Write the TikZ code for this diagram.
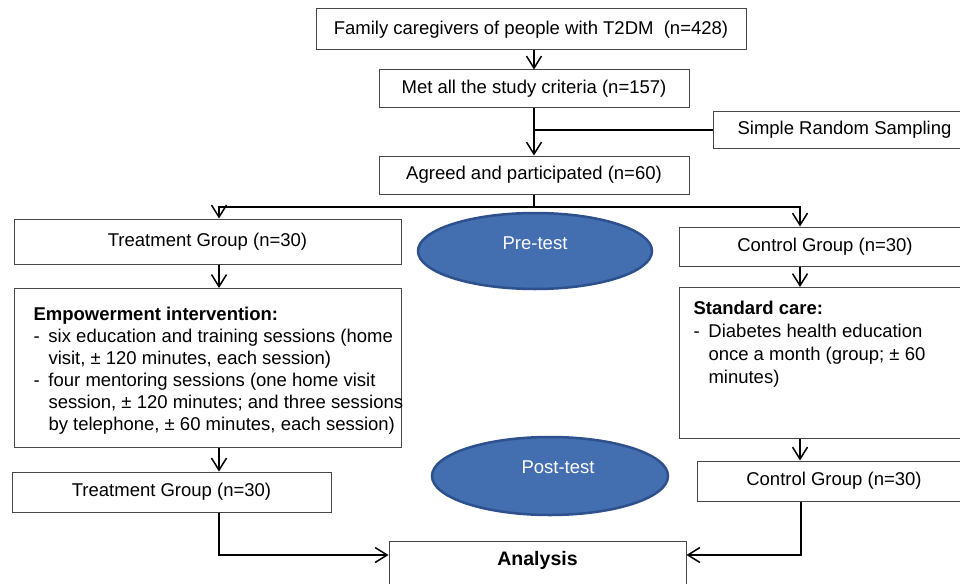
\documentclass[tikz,border=0pt]{standalone}
\usepackage{fontspec}
\setmainfont{Liberation Sans}
\usetikzlibrary{arrows.meta,shapes.geometric}
\definecolor{ellfill}{RGB}{67,110,175}
\definecolor{elldraw}{RGB}{46,80,140}
\definecolor{boxline}{RGB}{70,70,70}
\begin{document}
\begin{tikzpicture}[x=1pt,y=-1pt,
  font=\fontsize{18.5}{22}\selectfont,
  box/.style={draw=boxline, line width=1pt, rectangle, inner sep=0pt, fill=white},
  conn/.style={line width=1.5pt, black},
  arr/.style={conn, -{Straight Barb[length=12pt,width=15pt]}},
  oval/.style={ellipse, draw=elldraw, line width=2.5pt, fill=ellfill, text=white, inner sep=0pt}]
\useasboundingbox (0,0) rectangle (960,583);
\clip (0,0) rectangle (960,583);
\fill[white] (0,0) rectangle (960,583);

\node[box, minimum width=430pt, minimum height=41pt] (fam) at (531,29.5) {Family caregivers of people with T2DM\ \ (n=428)};
\node[box, minimum width=310pt, minimum height=38pt] (met) at (534,89) {Met all the study criteria (n=157)};
\node[box, minimum width=263pt, minimum height=36pt] (srs) at (844.5,130) {Simple Random Sampling};
\node[box, minimum width=310pt, minimum height=38pt] (agr) at (534,175) {Agreed and participated (n=60)};
\node[box, minimum width=387pt, minimum height=45pt] (tg1) at (207.5,241.5) {Treatment Group (n=30)};
\node[box, minimum width=292pt, minimum height=39pt] (cg1) at (825,246.5) {Control Group (n=30)};
\node[oval, minimum width=234pt, minimum height=76pt] (pre) at (535,251) {\raisebox{1.5pt}[0pt][0pt]{Pre-test}};

\node[box, anchor=north west, inner xsep=19pt, inner ysep=0pt] (emp) at (14,288) {\begin{minipage}[c][159pt][t]{349pt}\raggedright\vspace*{19pt}%
\mbox{\textbf{Empowerment intervention:}}\\
\mbox{\makebox[15pt][l]{-}six education and training sessions (home}\\
\mbox{\hspace*{15pt}visit, \textpm{} 120 minutes, each session)}\\
\mbox{\makebox[15pt][l]{-}four mentoring sessions (one home visit}\\
\mbox{\hspace*{15pt}session, \textpm{} 120 minutes; and three sessions}\\
\mbox{\hspace*{15pt}by telephone, \textpm{} 60 minutes, each session)}
\end{minipage}};

\node[box, anchor=north west, inner xsep=14pt, inner ysep=0pt] (std) at (679,287) {\begin{minipage}[c][151pt][t]{264pt}\raggedright\fontsize{18.5}{23}\selectfont\vspace*{13.5pt}%
\mbox{\textbf{Standard care:}}\\
\mbox{\makebox[15pt][l]{-}Diabetes health education}\\
\mbox{\hspace*{15pt}once a month (group; \textpm{} 60}\\
\mbox{\hspace*{15pt}minutes)}
\end{minipage}};

\node[box, minimum width=319pt, minimum height=40pt] (tg2) at (171.5,492) {Treatment Group (n=30)};
\node[box, minimum width=274pt, minimum height=40pt] (cg2) at (834,481) {Control Group (n=30)};
\node[oval, minimum width=236pt, minimum height=78pt] (post) at (550,476) {\raisebox{2.5pt}[0pt][0pt]{\hspace*{16pt}Post-test}};
\node[box, minimum width=297pt, minimum height=50pt, anchor=north, text depth=16pt, font=\fontsize{19.5}{22}\selectfont\bfseries] (ana) at (537.5,541) {Analysis};

\coordinate (tl) at (219,207);
\coordinate (tr) at (800,207);
\coordinate (split) at (534,207);
\coordinate (bl) at (219,555);
\coordinate (br) at (801,555);

\draw[arr] (fam.south -| met.north) -- (met.north);
\draw[arr] (met.south) -- (agr.north);
\draw[conn] (srs.west) -- (srs.west -| met.south);
\draw[conn] (agr.south) -- (split);
\draw[conn, {Straight Barb[length=12pt,width=15pt]}-{Straight Barb[length=12pt,width=15pt]}] (tl |- tg1.north) -- (tl) -- (tr) -- (tr |- cg1.north);
\draw[arr] (tg1.south -| tl) -- (emp.north -| tl);
\draw[arr] (cg1.south -| tr) -- (std.north -| tr);
\draw[arr] (emp.south -| tl) -- (tg2.north -| tl);
\draw[arr] (std.south -| tr) -- (cg2.north -| tr);
\draw[arr] (tg2.south -| bl) -- (bl) -- (bl -| ana.west);
\draw[arr] (cg2.south -| br) -- (br) -- (br -| ana.east);
\end{tikzpicture}
\end{document}
